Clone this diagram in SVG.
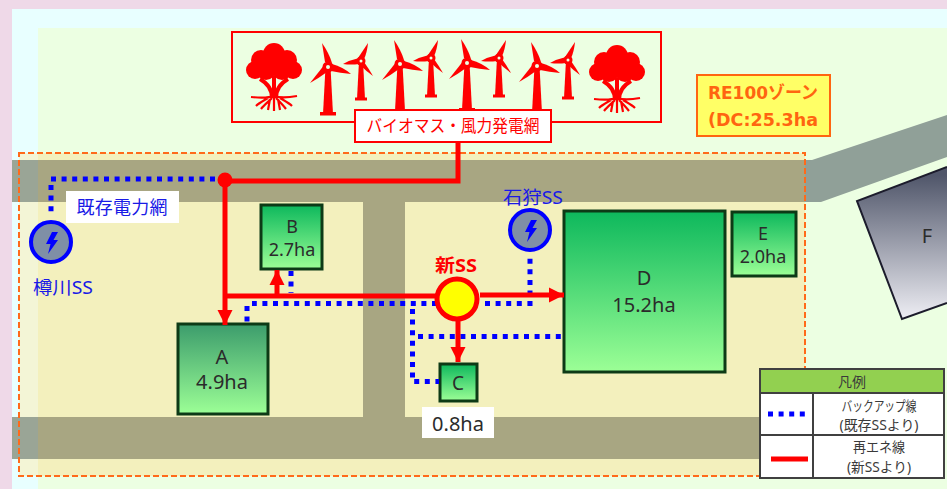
<svg xmlns="http://www.w3.org/2000/svg" width="947" height="489" viewBox="0 0 947 489">
<style>
text{font-family:"Noto Sans","Noto Sans CJK JP",sans-serif;text-anchor:middle}
.n{fill:#2b2b2b}
.box{stroke:#0d3a16;stroke-width:3}
.r{fill:none;stroke:#ff0000;stroke-width:5}
.b{fill:none;stroke:#0000ff;stroke-width:5;stroke-dasharray:5 5.6}
.ss{fill:#7f8fa6;stroke:#0000ff;stroke-width:4}
.bl{fill:#1a1ae6;font-size:18px}
.lg{fill:#3a3a3a;font-size:14px}
.ln{stroke:#404040;stroke-width:2;fill:none}
.red{fill:#ff0000}
.re{font-family:"DejaVu Sans","Noto Sans CJK JP",sans-serif;font-size:18px;font-weight:700;fill:#ff6510}
</style>
<defs>
<linearGradient id="gA" x1="0" y1="0" x2="0" y2="1"><stop offset="0" stop-color="#3c9c6c"/><stop offset="1" stop-color="#9cff96"/></linearGradient>
<linearGradient id="gB" x1="0" y1="0" x2="0" y2="1"><stop offset="0" stop-color="#0db85c"/><stop offset="1" stop-color="#9cff96"/></linearGradient>
<linearGradient id="gF" gradientUnits="userSpaceOnUse" x1="0" y1="175" x2="0" y2="319"><stop offset="0" stop-color="#50566a"/><stop offset="1" stop-color="#eeeef4"/></linearGradient>
<marker id="ah" markerUnits="userSpaceOnUse" markerWidth="16" markerHeight="16" refX="15" refY="8" orient="auto"><path d="M0 0.500L15 8L0 15.500Z" fill="#ff0000"/></marker>
<g id="tree">
<g class="red"><circle cx="0" cy="-14" r="11"/><circle cx="-13" cy="-8" r="10"/><circle cx="13" cy="-8" r="10"/><circle cx="-19" cy="2" r="9"/><circle cx="19" cy="2" r="9"/><circle cx="-8" cy="2" r="10"/><circle cx="8" cy="2" r="10"/></g>
<path d="M0 8V30M-14 11C-7 15-2 20-2 30M14 11C7 15 2 20 2 30" stroke="#ff0000" stroke-width="4" fill="none"/>
<path d="M-23 29C-12 30-6 30 0 28C6 30 12 30 23 28M-2 30C-6 34-10 37-13 41M-6 30C-11 33-15 35-18 38M2 30C6 34 9 37 12 41M6 30C11 33 15 35 18 38M0 30V43M-4 31L-6 42M4 31L6 42" stroke="#ff0000" stroke-width="2.200" fill="none"/>
</g>
<g id="big" class="red">
<path d="M-2.500 0L2.500 0L5 47H-5Z"/><path d="M-8 45H8V48.500H-8Z"/>
<path d="M-3 -5L-6 -24Q1 -14 4 -4Z"/><path d="M-3 -3L-18 16Q-9 11 -1 5Z"/><path d="M4 -3Q15 0 23 7Q12 6 3 4Z"/>
<circle r="5.500"/><circle r="2" fill="#ecffe2"/>
</g>
<g id="small" class="red">
<path d="M-2 0L2 0L4 38H-4Z"/><path d="M-6 36.500H6V39.500H-6Z"/>
<path d="M-3 -3L7 -18Q6 -8 3 -2Z"/><path d="M-2 -3Q-11 -1 -18 3Q-10 4 -2 3Z"/><path d="M3 1Q8 8 12 15Q5 10 -1 4Z"/>
<circle r="4.500"/><circle r="1.500" fill="#ecffe2"/>
</g>
<path id="bolt" d="M1 -11H7L2.500 -3H7L-3 11L-0.500 1H-5Z" fill="#0000ff"/>
</defs>

<rect width="947" height="489" fill="#efd9e8"/>
<rect x="12" y="9" width="935" height="480" fill="#e8ffff"/>
<rect x="38" y="28" width="909" height="461" fill="#ecffe2"/>

<g id="zone">
<rect x="19" y="153" width="19" height="323" fill="#f3f5d6"/>
<rect x="38" y="153" width="767" height="323" fill="#f3f0bd"/>
<polygon points="805,160 812,160 947,115 947,157 821,202 805,202" fill="#90a098"/>
<rect x="12" y="160" width="26" height="42" fill="#9aa596"/>
<rect x="38" y="160" width="767" height="42" fill="#a8a682"/>
<rect x="363" y="202" width="42" height="215" fill="#a8a682"/>
<rect x="12" y="417" width="26" height="42" fill="#9aa596"/>
<rect x="38" y="417" width="767" height="42" fill="#a8a682"/>
<rect x="19" y="153" width="786" height="323" fill="none" stroke="#ff6a1a" stroke-width="2" stroke-dasharray="6 3"/>
</g>

<g id="F">
<polygon points="857,201 947,167 947,303 902,319" fill="url(#gF)"/>
<path d="M947 167L857 201L902 319L947 303" fill="none" stroke="#1c1c2c" stroke-width="2"/>
<text x="927" y="243" font-size="20" class="n">F</text>
</g>

<g id="plant">
<rect x="232" y="32" width="429" height="90" fill="#ecffe2" stroke="#ff0000" stroke-width="2"/>
<use href="#tree" x="274" y="68"/>
<use href="#big" x="328" y="67"/><use href="#small" x="361" y="61"/>
<use href="#big" x="400" y="64"/><use href="#small" x="431" y="58"/>
<use href="#big" x="467" y="63"/><use href="#small" x="499" y="58"/>
<use href="#big" x="537" y="66"/><use href="#small" x="568" y="60"/>
<use href="#tree" x="617" y="70"/>
<rect x="355" y="110" width="196" height="32" fill="#fff" stroke="#ff0000" stroke-width="2"/>
<text x="453" y="132" font-size="17" fill="#ff0000" textLength="173" lengthAdjust="spacingAndGlyphs">バイオマス・風力発電網</text>
</g>

<g id="re100">
<rect x="697" y="75" width="133" height="61" fill="#ffff66" stroke="#ff6510" stroke-width="2"/>
<text x="763" y="99" class="re" textLength="110" lengthAdjust="spacingAndGlyphs">RE100ゾーン</text>
<text x="763" y="126" class="re" textLength="110" lengthAdjust="spacingAndGlyphs">(DC:25.3ha</text>
</g>

<g id="A"><rect x="178" y="324" width="90" height="90" fill="url(#gA)" class="box"/><text x="222" y="364" font-size="20" class="n">A</text><text x="222" y="389" font-size="20" class="n">4.9ha</text></g>
<g id="B"><rect x="261" y="205" width="61" height="64" fill="url(#gB)" class="box"/><text x="292" y="233" font-size="18" class="n">B</text><text x="292" y="256" font-size="18" class="n">2.7ha</text></g>
<g id="C"><rect x="440" y="364" width="37" height="37" fill="url(#gB)" class="box"/><text x="458" y="390" font-size="19" class="n">C</text></g>
<g id="C-area"><rect x="422" y="407" width="72" height="31" fill="#fff"/><text x="458" y="431" font-size="20" class="n">0.8ha</text></g>
<g id="D"><rect x="564" y="211" width="161" height="161" fill="url(#gB)" class="box"/><text x="644" y="285" font-size="20" class="n">D</text><text x="644" y="312" font-size="20" class="n">15.2ha</text></g>
<g id="E"><rect x="732" y="212" width="64" height="64" fill="url(#gB)" class="box"/><text x="763" y="240" font-size="18" class="n">E</text><text x="763" y="263" font-size="18" class="n">2.0ha</text></g>

<g id="connectors">
<path class="b" d="M215 179H49"/>
<path class="b" d="M51 185V214"/>
<path class="b" d="M291 271V293"/>
<path class="b" d="M437 303.500H252"/>
<path class="b" d="M247 306V327"/>
<path class="b" d="M485 303.500H530V253"/>
<path class="b" d="M412.500 309V381.500H439"/>
<path class="b" d="M418 336.500H563"/>
<path class="r" d="M458 142V181H225V325" marker-end="url(#ah)"/>
<circle cx="225" cy="180" r="7.500" fill="#ff0000"/>
<path class="r" d="M225 296H436"/>
<path class="r" d="M277 296V270" marker-end="url(#ah)"/>
<path class="r" d="M480 295H564" marker-end="url(#ah)"/>
<path class="r" d="M458 320V362" marker-end="url(#ah)"/>
</g>

<g id="grid-label"><rect x="66" y="191" width="113" height="32" fill="#fff"/><text x="122" y="214" class="bl" textLength="91">既存電力網</text></g>
<g id="ss-taru"><circle cx="51" cy="242" r="20" class="ss"/><use href="#bolt" x="51" y="243"/><text x="63" y="294" class="bl" textLength="60" lengthAdjust="spacingAndGlyphs">樽川SS</text></g>
<g id="ss-ishi"><circle cx="530" cy="230" r="20" class="ss"/><use href="#bolt" x="530" y="231"/><text x="533" y="204" class="bl" textLength="60" lengthAdjust="spacingAndGlyphs">石狩SS</text></g>
<g id="ss-new"><circle cx="457" cy="299" r="20" fill="#ffff00" stroke="#ff0000" stroke-width="5"/><text x="456" y="272" font-size="18" font-weight="700" fill="#ff0000" textLength="42" lengthAdjust="spacingAndGlyphs">新SS</text></g>

<g id="legend">
<rect x="760" y="369" width="184" height="109" fill="#fff"/>
<rect x="760" y="369" width="184" height="24" fill="#92d050"/>
<path class="ln" d="M760 369H944V478H760ZM760 393H944M760 435H944M813 393V478"/>
<text x="852" y="387" class="lg">凡例</text>
<path d="M768 414H806" fill="none" stroke="#0000ff" stroke-width="5" stroke-dasharray="5 5.600"/>
<path d="M771 459H808" fill="none" stroke="#ff0000" stroke-width="5"/>
<text x="879" y="411" class="lg" textLength="75" lengthAdjust="spacingAndGlyphs">バックアップ線</text>
<text x="879" y="430" class="lg" textLength="79" lengthAdjust="spacingAndGlyphs">(既存SSより)</text>
<text x="879" y="452" class="lg" textLength="52" lengthAdjust="spacingAndGlyphs">再エネ線</text>
<text x="879" y="472" class="lg" textLength="64" lengthAdjust="spacingAndGlyphs">(新SSより)</text>
</g>
</svg>
